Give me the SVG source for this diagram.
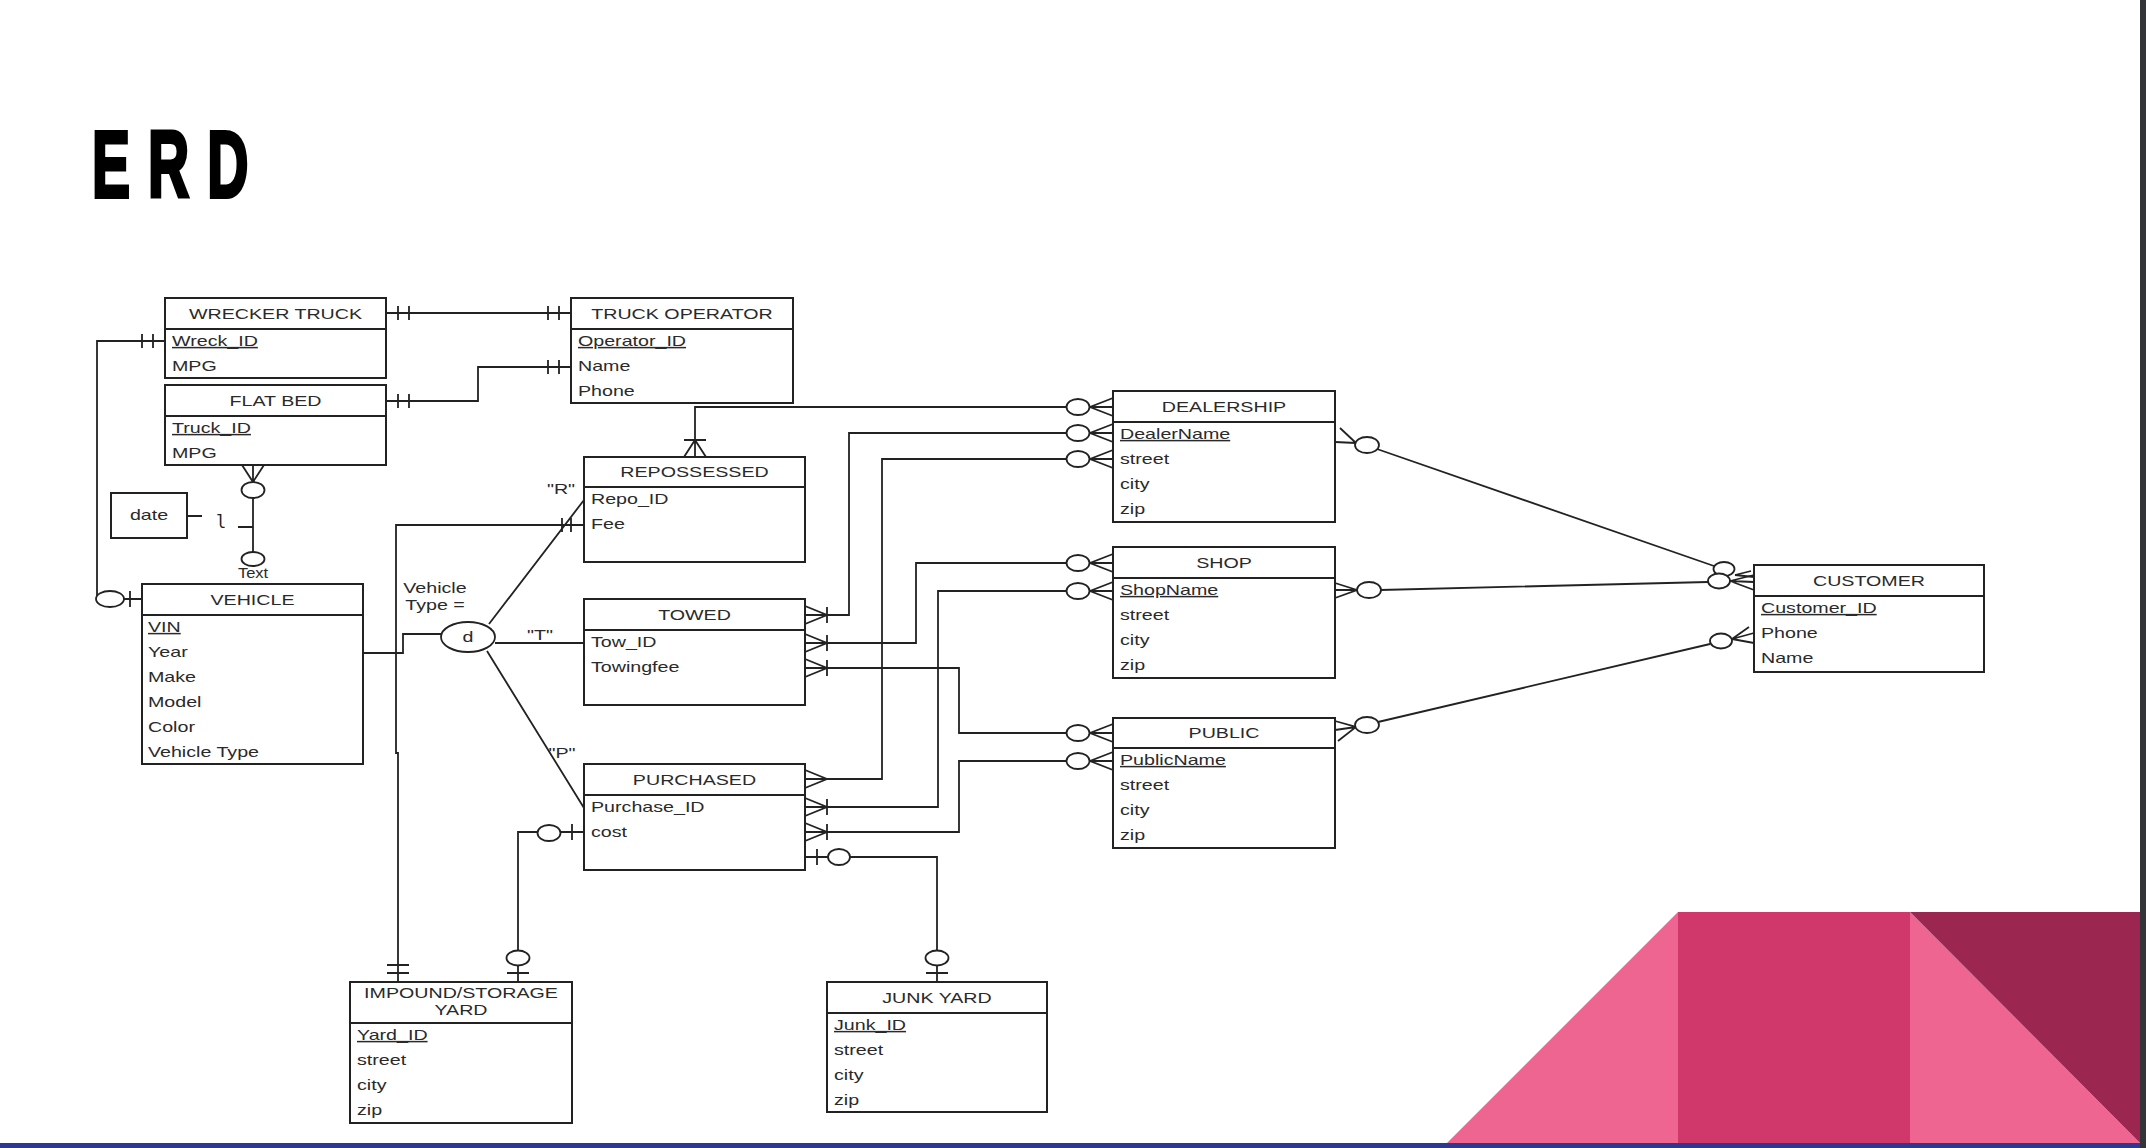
<svg xmlns="http://www.w3.org/2000/svg" width="2146" height="1148" viewBox="0 0 2146 1148">
<style>
.box{fill:#fff;stroke:#222;stroke-width:2}
.sep{stroke:#222;stroke-width:2}
.t{font-family:"Liberation Sans",Arial,sans-serif;font-size:15px;fill:#2a2a2a}
.h{text-anchor:middle}
.u{text-decoration:underline}
.ln{fill:none;stroke:#222;stroke-width:1.8}
.o{fill:#fff;stroke:#222;stroke-width:1.8}
.title{font-family:"Liberation Sans",Arial,sans-serif;font-weight:700;font-size:95px;fill:#000;stroke:#000;stroke-width:4;letter-spacing:30px}
</style>
<rect x="0" y="0" width="2146" height="1148" fill="#fff"/>

<g id="title">
<text class="title" transform="matrix(0.6 0 0 1 92 197)">ERD</text>
</g>

<g id="decoration">
<polygon points="1447,1143 1678,912 1678,1143" fill="#EE6591"/>
<rect x="1678" y="912" width="232" height="231" fill="#D0376A"/>
<polygon points="1910,912 2140,1143 1910,1143" fill="#EE6591"/>
<polygon points="1910,912 2140,912 2140,1143" fill="#9B2650"/>
<rect x="0" y="1143" width="2146" height="5" fill="#2B3990"/>
<rect x="2140" y="0" width="6" height="1148" fill="#333438"/>
</g>

<g id="connectors">
<!-- wrecker - truck operator -->
<path class="ln" d="M386,313 H571 M398,306 V320 M409,306 V320 M548,306 V320 M559,306 V320"/>
<!-- flat bed - truck operator -->
<path class="ln" d="M386,401 H478 V367 H571 M398,394 V408 M409,394 V408 M548,360 V374 M559,360 V374"/>
<!-- wrecker - vehicle -->
<path class="ln" d="M165,341 H97 V599 H142 M142,334 V348 M153,334 V348 M130,591 V607"/>
<ellipse class="o" cx="110" cy="599" rx="14" ry="8"/>
<!-- flat bed - text -->
<path class="ln" d="M253,465 V552 M242,465 L253,482 L264,465 M238,527 H253 M187,516 H202"/>
<ellipse class="o" cx="253" cy="490" rx="11.5" ry="8"/>
<ellipse class="o" cx="253" cy="559" rx="11.5" ry="7"/>
<text class="t h" transform="matrix(1.1 0 0 1 253 578)">Text</text>
<text x="221" y="528" text-anchor="middle" font-family="'DejaVu Sans Mono','Liberation Mono',monospace" font-size="17" fill="#222">l</text>
<!-- vehicle - d -->
<path class="ln" d="M363,653 H403 V634 H441"/>
<!-- repossessed - impound -->
<path class="ln" d="M584,525 H396 V753 H398 V982 M562,518 V532 M571,518 V532 M387,965 H409 M387,973 H409"/>
<!-- d branches -->
<path class="ln" d="M489,624 L584,500 M495,643 H584 M487,651 L584,808"/>
<!-- repossessed - dealership -->
<path class="ln" d="M695,457 V407 H1113 M684,457 L695,440 L706,457 M684,440 H706 M1113,398 L1090,407 L1113,416"/>
<ellipse class="o" cx="1078" cy="407" rx="11.5" ry="8"/>
<!-- towed - dealership -->
<path class="ln" d="M805,615 H849 V433 H1113 M805,606 L827,615 L805,624 M827,607 V623 M1113,424 L1090,433 L1113,442"/>
<ellipse class="o" cx="1078" cy="433" rx="11.5" ry="8"/>
<!-- purchased - dealership -->
<path class="ln" d="M805,779 H882 V459 H1113 M805,770 L827,779 L805,788 M1113,450 L1090,459 L1113,468"/>
<ellipse class="o" cx="1078" cy="459" rx="11.5" ry="8"/>
<!-- towed - shop -->
<path class="ln" d="M805,643 H916 V563 H1113 M805,634 L827,643 L805,652 M827,635 V651 M1113,554 L1090,563 L1113,572"/>
<ellipse class="o" cx="1078" cy="563" rx="11.5" ry="8"/>
<!-- purchased - shop -->
<path class="ln" d="M805,807 H938 V591 H1113 M805,798 L827,807 L805,816 M827,799 V815 M1113,582 L1090,591 L1113,600"/>
<ellipse class="o" cx="1078" cy="591" rx="11.5" ry="8"/>
<!-- towed - public -->
<path class="ln" d="M805,668 H959 V733 H1113 M805,659 L827,668 L805,677 M827,660 V676 M1113,724 L1090,733 L1113,742"/>
<ellipse class="o" cx="1078" cy="733" rx="11.5" ry="8"/>
<!-- purchased - public -->
<path class="ln" d="M805,832 H959 V761 H1113 M805,823 L827,832 L805,841 M827,824 V840 M1113,752 L1090,761 L1113,770"/>
<ellipse class="o" cx="1078" cy="761" rx="11.5" ry="8"/>
<!-- purchased - junk yard -->
<path class="ln" d="M805,857 H937 V982 M817,849 V865 M926,973 H948"/>
<ellipse class="o" cx="839" cy="857" rx="11" ry="8"/>
<ellipse class="o" cx="937" cy="958" rx="11.5" ry="7.5"/>
<!-- purchased - impound -->
<path class="ln" d="M584,832 H518 V982 M572,824 V840 M507,973 H529"/>
<ellipse class="o" cx="549" cy="833" rx="11.5" ry="8"/>
<ellipse class="o" cx="518" cy="958" rx="11.5" ry="7.5"/>
<!-- dealership - customer -->
<path class="ln" d="M1377,449 L1714,566 M1335,442 L1356,443 M1340,428 L1356,443 M1735,575 L1751,571 M1735,575 L1754,577"/>
<ellipse class="o" cx="1367" cy="445" rx="12" ry="8"/>
<ellipse class="o" cx="1724" cy="569" rx="10.5" ry="7"/>
<!-- shop - customer -->
<path class="ln" d="M1380,590 L1708,582 M1335,583 L1357,590 L1335,598 M1335,590 H1357 M1730,581 L1754,575 M1730,581 L1754,582 M1730,581 L1754,590"/>
<ellipse class="o" cx="1369" cy="590" rx="12" ry="8"/>
<ellipse class="o" cx="1719" cy="581" rx="11" ry="7.5"/>
<!-- public - customer -->
<path class="ln" d="M1378,722 L1710,644 M1335,721 L1356,727 L1338,741 M1335,730 L1356,727 M1732,639 L1749,627 M1732,639 L1754,633 M1732,639 L1754,643"/>
<ellipse class="o" cx="1367" cy="725" rx="12" ry="8"/>
<ellipse class="o" cx="1721" cy="641" rx="11" ry="7.5"/>
<!-- labels -->
<text class="t h" transform="matrix(1.31 0 0 1 561 494)">"R"</text>
<text class="t h" transform="matrix(1.31 0 0 1 540 640)">"T"</text>
<text class="t h" transform="matrix(1.31 0 0 1 562 758)">"P"</text>
<text class="t h" transform="matrix(1.31 0 0 1 435 593)">Vehicle</text>
<text class="t h" transform="matrix(1.31 0 0 1 435 610)">Type =</text>
</g>

<g id="n-d">
<ellipse class="o" cx="468" cy="637" rx="27" ry="15"/>
<text class="t h" transform="matrix(1.31 0 0 1 468 642)">d</text>
</g>

<g id="n-date">
<rect class="box" x="111" y="493" width="76" height="45"/>
<text class="t h" transform="matrix(1.31 0 0 1 149 520)">date</text>
</g>

<g id="n-wrecker-truck">
<rect class="box" x="165" y="298" width="221" height="80"/>
<line class="sep" x1="165" y1="329" x2="386" y2="329"/>
<text class="t h" transform="matrix(1.31 0 0 1 275.5 319)">WRECKER TRUCK</text>
<text class="t u" transform="matrix(1.31 0 0 1 172 346)">Wreck_ID</text>
<text class="t" transform="matrix(1.31 0 0 1 172 371)">MPG</text>
</g>

<g id="n-flat-bed">
<rect class="box" x="165" y="385" width="221" height="80"/>
<line class="sep" x1="165" y1="416" x2="386" y2="416"/>
<text class="t h" transform="matrix(1.31 0 0 1 275.5 406)">FLAT BED</text>
<text class="t u" transform="matrix(1.31 0 0 1 172 433)">Truck_ID</text>
<text class="t" transform="matrix(1.31 0 0 1 172 458)">MPG</text>
</g>

<g id="n-truck-operator">
<rect class="box" x="571" y="298" width="222" height="105"/>
<line class="sep" x1="571" y1="329" x2="793" y2="329"/>
<text class="t h" transform="matrix(1.31 0 0 1 682 319)">TRUCK OPERATOR</text>
<text class="t u" transform="matrix(1.31 0 0 1 578 346)">Operator_ID</text>
<text class="t" transform="matrix(1.31 0 0 1 578 371)">Name</text>
<text class="t" transform="matrix(1.31 0 0 1 578 396)">Phone</text>
</g>

<g id="n-vehicle">
<rect class="box" x="142" y="584" width="221" height="180"/>
<line class="sep" x1="142" y1="615" x2="363" y2="615"/>
<text class="t h" transform="matrix(1.31 0 0 1 252.5 605)">VEHICLE</text>
<text class="t u" transform="matrix(1.31 0 0 1 148 632)">VIN</text>
<text class="t" transform="matrix(1.31 0 0 1 148 657)">Year</text>
<text class="t" transform="matrix(1.31 0 0 1 148 682)">Make</text>
<text class="t" transform="matrix(1.31 0 0 1 148 707)">Model</text>
<text class="t" transform="matrix(1.31 0 0 1 148 732)">Color</text>
<text class="t" transform="matrix(1.31 0 0 1 148 757)">Vehicle Type</text>
</g>

<g id="n-repossessed">
<rect class="box" x="584" y="457" width="221" height="105"/>
<line class="sep" x1="584" y1="487" x2="805" y2="487"/>
<text class="t h" transform="matrix(1.31 0 0 1 694.5 477)">REPOSSESSED</text>
<text class="t" transform="matrix(1.31 0 0 1 591 504)">Repo_ID</text>
<text class="t" transform="matrix(1.31 0 0 1 591 529)">Fee</text>
</g>

<g id="n-towed">
<rect class="box" x="584" y="599" width="221" height="106"/>
<line class="sep" x1="584" y1="630" x2="805" y2="630"/>
<text class="t h" transform="matrix(1.31 0 0 1 694.5 620)">TOWED</text>
<text class="t" transform="matrix(1.31 0 0 1 591 647)">Tow_ID</text>
<text class="t" transform="matrix(1.31 0 0 1 591 672)">Towingfee</text>
</g>

<g id="n-purchased">
<rect class="box" x="584" y="764" width="221" height="106"/>
<line class="sep" x1="584" y1="795" x2="805" y2="795"/>
<text class="t h" transform="matrix(1.31 0 0 1 694.5 785)">PURCHASED</text>
<text class="t" transform="matrix(1.31 0 0 1 591 812)">Purchase_ID</text>
<text class="t" transform="matrix(1.31 0 0 1 591 837)">cost</text>
</g>

<g id="n-dealership">
<rect class="box" x="1113" y="391" width="222" height="131"/>
<line class="sep" x1="1113" y1="422" x2="1335" y2="422"/>
<text class="t h" transform="matrix(1.31 0 0 1 1224 412)">DEALERSHIP</text>
<text class="t u" transform="matrix(1.31 0 0 1 1120 439)">DealerName</text>
<text class="t" transform="matrix(1.31 0 0 1 1120 464)">street</text>
<text class="t" transform="matrix(1.31 0 0 1 1120 489)">city</text>
<text class="t" transform="matrix(1.31 0 0 1 1120 514)">zip</text>
</g>

<g id="n-shop">
<rect class="box" x="1113" y="547" width="222" height="131"/>
<line class="sep" x1="1113" y1="578" x2="1335" y2="578"/>
<text class="t h" transform="matrix(1.31 0 0 1 1224 568)">SHOP</text>
<text class="t u" transform="matrix(1.31 0 0 1 1120 595)">ShopName</text>
<text class="t" transform="matrix(1.31 0 0 1 1120 620)">street</text>
<text class="t" transform="matrix(1.31 0 0 1 1120 645)">city</text>
<text class="t" transform="matrix(1.31 0 0 1 1120 670)">zip</text>
</g>

<g id="n-public">
<rect class="box" x="1113" y="718" width="222" height="130"/>
<line class="sep" x1="1113" y1="748" x2="1335" y2="748"/>
<text class="t h" transform="matrix(1.31 0 0 1 1224 738)">PUBLIC</text>
<text class="t u" transform="matrix(1.31 0 0 1 1120 765)">PublicName</text>
<text class="t" transform="matrix(1.31 0 0 1 1120 790)">street</text>
<text class="t" transform="matrix(1.31 0 0 1 1120 815)">city</text>
<text class="t" transform="matrix(1.31 0 0 1 1120 840)">zip</text>
</g>

<g id="n-customer">
<rect class="box" x="1754" y="565" width="230" height="107"/>
<line class="sep" x1="1754" y1="596" x2="1984" y2="596"/>
<text class="t h" transform="matrix(1.31 0 0 1 1869 586)">CUSTOMER</text>
<text class="t u" transform="matrix(1.31 0 0 1 1761 613)">Customer_ID</text>
<text class="t" transform="matrix(1.31 0 0 1 1761 638)">Phone</text>
<text class="t" transform="matrix(1.31 0 0 1 1761 663)">Name</text>
</g>

<g id="n-impound">
<rect class="box" x="350" y="982" width="222" height="141"/>
<line class="sep" x1="350" y1="1023" x2="572" y2="1023"/>
<text class="t h" transform="matrix(1.31 0 0 1 461 998)">IMPOUND/STORAGE</text>
<text class="t h" transform="matrix(1.31 0 0 1 461 1015)">YARD</text>
<text class="t u" transform="matrix(1.31 0 0 1 357 1040)">Yard_ID</text>
<text class="t" transform="matrix(1.31 0 0 1 357 1065)">street</text>
<text class="t" transform="matrix(1.31 0 0 1 357 1090)">city</text>
<text class="t" transform="matrix(1.31 0 0 1 357 1115)">zip</text>
</g>

<g id="n-junk-yard">
<rect class="box" x="827" y="982" width="220" height="130"/>
<line class="sep" x1="827" y1="1013" x2="1047" y2="1013"/>
<text class="t h" transform="matrix(1.31 0 0 1 937 1003)">JUNK YARD</text>
<text class="t u" transform="matrix(1.31 0 0 1 834 1030)">Junk_ID</text>
<text class="t" transform="matrix(1.31 0 0 1 834 1055)">street</text>
<text class="t" transform="matrix(1.31 0 0 1 834 1080)">city</text>
<text class="t" transform="matrix(1.31 0 0 1 834 1105)">zip</text>
</g>
</svg>
